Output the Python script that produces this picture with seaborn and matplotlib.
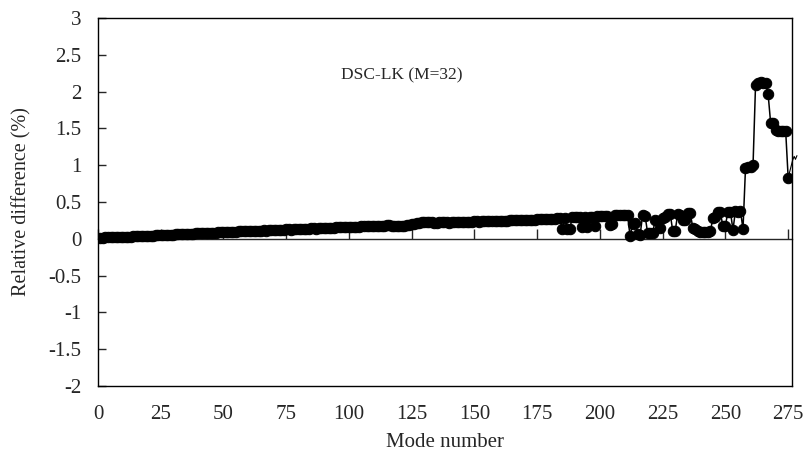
import matplotlib
matplotlib.use("Agg")
import matplotlib.pyplot as plt
from matplotlib.ticker import FormatStrFormatter
import pandas as pd
import seaborn as sns

# relative difference (%) per mode
diff_1_90 = [
    0.015, 0.016, 0.018, 0.018, 0.020, 0.021, 0.022, 0.024, 0.025, 0.027,
    0.028, 0.030, 0.031, 0.033, 0.034, 0.035, 0.036, 0.038, 0.040, 0.041,
    0.043, 0.045, 0.046, 0.048, 0.050, 0.052, 0.051, 0.053, 0.056, 0.058,
    0.060, 0.059, 0.061, 0.064, 0.066, 0.068, 0.067, 0.070, 0.073, 0.075,
    0.077, 0.076, 0.078, 0.081, 0.083, 0.085, 0.084, 0.086, 0.089, 0.091,
    0.093, 0.092, 0.094, 0.097, 0.099, 0.101, 0.100, 0.102, 0.104, 0.106,
    0.107, 0.105, 0.108, 0.111, 0.113, 0.114, 0.112, 0.115, 0.118, 0.120,
    0.121, 0.119, 0.122, 0.125, 0.127, 0.128, 0.126, 0.129, 0.132, 0.134,
    0.135, 0.133, 0.136, 0.139, 0.141, 0.142, 0.140, 0.143, 0.146, 0.148,
]
diff_91_180 = [
    0.149, 0.147, 0.150, 0.153, 0.155, 0.156, 0.154, 0.157, 0.160, 0.162,
    0.163, 0.161, 0.164, 0.167, 0.169, 0.170, 0.168, 0.171, 0.174, 0.176,
    0.177, 0.175, 0.178, 0.180, 0.182, 0.181, 0.176, 0.172, 0.170, 0.171,
    0.173, 0.176, 0.182, 0.190, 0.198, 0.206, 0.214, 0.220, 0.224, 0.226,
    0.227, 0.225, 0.222, 0.220, 0.221, 0.224, 0.226, 0.225, 0.222, 0.221,
    0.223, 0.226, 0.228, 0.230, 0.229, 0.227, 0.228, 0.231, 0.234, 0.236,
    0.237, 0.235, 0.236, 0.239, 0.241, 0.242, 0.240, 0.241, 0.244, 0.246,
    0.247, 0.245, 0.246, 0.249, 0.251, 0.252, 0.250, 0.252, 0.255, 0.257,
    0.258, 0.256, 0.258, 0.261, 0.263, 0.265, 0.264, 0.266, 0.268, 0.270,
]
diff_181_275 = [
    0.27, 0.27, 0.28, 0.28, 0.14, 0.28, 0.14, 0.14, 0.29, 0.30,
    0.30, 0.30, 0.16, 0.30, 0.16, 0.29, 0.30, 0.18, 0.31, 0.31,
    0.31, 0.31, 0.31, 0.19, 0.20, 0.32, 0.32, 0.32, 0.32, 0.32,
    0.32, 0.04, 0.20, 0.21, 0.06, 0.05, 0.32, 0.31, 0.08, 0.08,
    0.08, 0.25, 0.24, 0.15, 0.28, 0.29, 0.34, 0.34, 0.11, 0.11,
    0.34, 0.33, 0.26, 0.26, 0.35, 0.35, 0.15, 0.14, 0.10, 0.09,
    0.09, 0.09, 0.09, 0.10, 0.28, 0.29, 0.37, 0.36, 0.17, 0.18,
    0.37, 0.37, 0.12, 0.38, 0.37, 0.38, 0.13, 0.96, 0.97, 0.98,
    1.00, 2.09, 2.12, 2.13, 2.12, 2.12, 1.97, 1.58, 1.57, 1.48,
    1.47, 1.47, 1.46, 1.47, 0.83,
]
rel_diff = diff_1_90 + diff_91_180 + diff_181_275
modes = list(range(1, len(rel_diff) + 1))

# the short stub that runs past the right border
tail_modes = [275, 276.8, 277.4, 277.9, 278.5]
tail_diff = [0.83, 1.07, 1.12, 1.08, 1.13]

x_ticks = [0, 25, 50, 75, 100, 125, 150, 175, 200, 225, 250, 275]
y_ticks = [-2, -1.5, -1, -0.5, 0, 0.5, 1, 1.5, 2, 2.5, 3]

df = pd.DataFrame({"mode": modes, "diff": rel_diff})

sns.set_style("white")
plt.rcParams["font.family"] = ["Liberation Serif", "DejaVu Serif"]
plt.rcParams["axes.unicode_minus"] = False

fig = plt.figure(figsize=(8.09, 4.55), dpi=100)
ax = fig.add_axes([0.1211, 0.1516, 0.8578, 0.8088])

sns.lineplot(data=df, x="mode", y="diff", ax=ax, color="black", lw=1.1,
             marker="o", markersize=7.5, markeredgecolor="black", zorder=3)
sns.lineplot(x=tail_modes, y=tail_diff, ax=ax, color="black", lw=0.8)
ax.lines[-1].set_clip_on(False)

ax.set_xlim(0, 276.5)
ax.set_ylim(-2, 3)

for s in ax.spines.values():
    s.set_color("black")
    s.set_linewidth(1)

ax.set_yticks(y_ticks)
ax.yaxis.set_major_formatter(FormatStrFormatter("%g"))
ax.tick_params(axis="y", direction="in", length=6, width=1, labelsize=15,
               left=True, pad=12)
ax.set_xticks(x_ticks)
ax.tick_params(axis="x", length=0, labelsize=15, pad=14)

# zero line carries the x tick marks
zero_ax = ax.secondary_xaxis(0.4)
zero_ax.set_xticks(x_ticks, labels=[])
zero_ax.tick_params(direction="in", length=7, width=1)
zero_ax.spines["bottom"].set_linewidth(1)

ax.set_xlabel("Mode number", fontsize=15, labelpad=6)
ax.set_ylabel("Relative difference (%)", fontsize=14.5, labelpad=12)

ax.text(121, 2.22, "DSC-LK (M=32)", fontsize=12.5, ha="center", va="center")

fig.savefig("out.png", dpi=100)
